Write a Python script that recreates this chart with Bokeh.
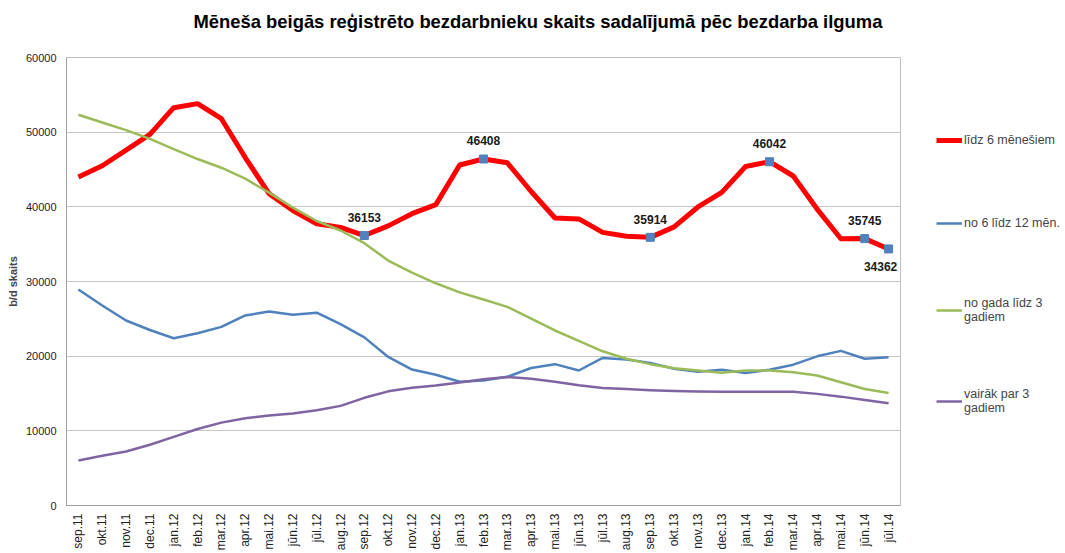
from bokeh.plotting import figure
from bokeh.models import FactorRange, Range1d, Legend, LegendItem, ColumnDataSource, FixedTicker, NumeralTickFormatter, Title
from bokeh.core.properties import value
from bokeh.embed import file_html
from bokeh.resources import INLINE
import math

months = ["sep.11", "okt.11", "nov.11", "dec.11", "jan.12", "feb.12", "mar.12", "apr.12",
          "mai.12", "jūn.12", "jūl.12", "aug.12", "sep.12", "okt.12", "nov.12", "dec.12",
          "jan.13", "feb.13", "mar.13", "apr.13", "mai.13", "jūn.13", "jūl.13", "aug.13",
          "sep.13", "okt.13", "nov.13", "dec.13", "jan.14", "feb.14", "mar.14", "apr.14",
          "mai.14", "jūn.14", "jūl.14"]

lidz6 = [44000, 45500, 47600, 49700, 53280, 53820, 51800, 46600, 41770, 39500, 37740, 37250,
         36153, 37450, 39080, 40300, 45600, 46408, 45900, 42050, 38500, 38380, 36580, 36050,
         35914, 37320, 39980, 41940, 45400, 46042, 44130, 39700, 35730, 35745, 34362]

no6lidz12 = [28930, 26790, 24780, 23500, 22400, 23060, 23920, 25450, 25980, 25560, 25820, 24280,
             22520, 19900, 18210, 17520, 16570, 16750, 17230, 18420, 18930, 18080, 19770, 19550,
             19100, 18320, 17900, 18190, 17760, 18190, 18860, 19980, 20710, 19660, 19850]

gads3 = [52340, 51300, 50270, 49100, 47730, 46400, 45240, 43770, 41900, 39900, 38100, 36830,
         35130, 32810, 31200, 29760, 28550, 27590, 26600, 25040, 23440, 22050, 20650, 19660,
         18930, 18370, 18080, 17790, 18080, 18080, 17860, 17410, 16500, 15600, 15070]

vairak3 = [6030, 6650, 7230, 8140, 9190, 10240, 11100, 11680, 12050, 12320, 12750, 13340,
           14420, 15290, 15780, 16070, 16470, 16920, 17220, 16980, 16560, 16110, 15750, 15600,
           15450, 15330, 15270, 15220, 15220, 15220, 15220, 14950, 14580, 14120, 13680]

title_text = "Mēneša beigās reģistrēto bezdarbnieku skaits sadalījumā pēc bezdarba ilguma"
series_names = ["līdz 6 mēnešiem", "no 6 līdz 12 mēn.", "no gada līdz 3\ngadiem", "vairāk par 3\ngadiem"]
y_ticks = [0, 10000, 20000, 30000, 40000, 50000, 60000]
label_idx = [12, 17, 24, 29, 33, 34]

FONT = "Liberation Sans"

p = figure(x_range=FactorRange(*months, range_padding=0), y_range=Range1d(0, 60000),
           frame_width=834, frame_height=448, title=None,
           min_border_left=66, min_border_right=165, min_border_top=57, min_border_bottom=48,
           output_backend="svg", toolbar_location=None)

# spacer (blank) title nearest the frame, then the real title above it
spacer = Title(text=" ", text_font=FONT, text_font_size="10px", standoff=8)
p.add_layout(spacer, "above")
main_title = Title(text=title_text, text_font=FONT, text_font_size="18.4px", text_font_style="bold",
                   align="left", offset=127, standoff=10, text_color="#000000")
p.add_layout(main_title, "above")

p.outline_line_color = "#bfbfbf"
p.xgrid.grid_line_color = None
p.ygrid.grid_line_color = "#c6c6c6"
p.ygrid.grid_line_width = 1
p.background_fill_color = "white"
p.border_fill_color = "white"

p.yaxis.ticker = FixedTicker(ticks=y_ticks)
p.yaxis.formatter = NumeralTickFormatter(format="0")
p.yaxis.axis_label = "b/d skaits"
p.yaxis.axis_label_text_font = FONT
p.yaxis.axis_label_text_font_size = "11px"
p.yaxis.axis_label_text_font_style = "bold"
p.yaxis.axis_label_standoff = 4
for ax in (p.xaxis, p.yaxis):
    ax.axis_line_color = "#a0a0a0"
    ax.major_tick_line_color = None
    ax.minor_tick_line_color = None
    ax.major_tick_out = 0
    ax.major_tick_in = 0
    ax.minor_tick_out = 0
    ax.minor_tick_in = 0
    ax.major_label_text_font = FONT
    ax.major_label_text_font_size = "11px"
    ax.major_label_text_color = "#222222"
p.xaxis.major_label_text_font_size = "12px"
p.yaxis.major_label_standoff = 10
p.xaxis.major_label_orientation = math.pi / 2
p.xaxis.major_label_standoff = 8

r_red = p.line(months, lidz6, line_color="#ff0000", line_width=5, line_join="round")
r_blue = p.line(months, no6lidz12, line_color="#4f81bd", line_width=2.5, line_join="round")
r_green = p.line(months, gads3, line_color="#9bbb59", line_width=2.5, line_join="round")
r_purple = p.line(months, vairak3, line_color="#8064a2", line_width=2.5, line_join="round")

lab_x = [months[i] for i in label_idx]
lab_y = [lidz6[i] for i in label_idx]
lab_t = [str(lidz6[i]) for i in label_idx]
xo = [0 if i != 34 else -8 for i in label_idx]
yo = [-18 if i != 34 else 18 for i in label_idx]
src = ColumnDataSource(dict(x=lab_x, y=lab_y, t=lab_t, xo=xo, yo=yo))
p.scatter("x", "y", source=src, marker="square", size=8, color="#4f81bd")
p.text("x", "y", text="t", source=src, x_offset="xo", y_offset="yo",
       text_align="center", text_baseline="middle",
       text_font=value(FONT), text_font_size="12px", text_font_style="bold", text_color="#1a1a1a")

legend = Legend(items=[
    LegendItem(label=series_names[0], renderers=[r_red]),
    LegendItem(label=series_names[1], renderers=[r_blue]),
    LegendItem(label=series_names[2], renderers=[r_green]),
    LegendItem(label=series_names[3], renderers=[r_purple]),
], location=(36, 90), orientation="vertical")
legend.spacing = 63
legend.glyph_width = 26
legend.label_standoff = 2
legend.label_text_font = FONT
legend.label_text_font_size = "12.5px"
legend.border_line_color = None
legend.background_fill_alpha = 0
legend.padding = 2
legend.margin = 0
p.add_layout(legend, "right")

open("out.html", "w").write(file_html(p, INLINE))
